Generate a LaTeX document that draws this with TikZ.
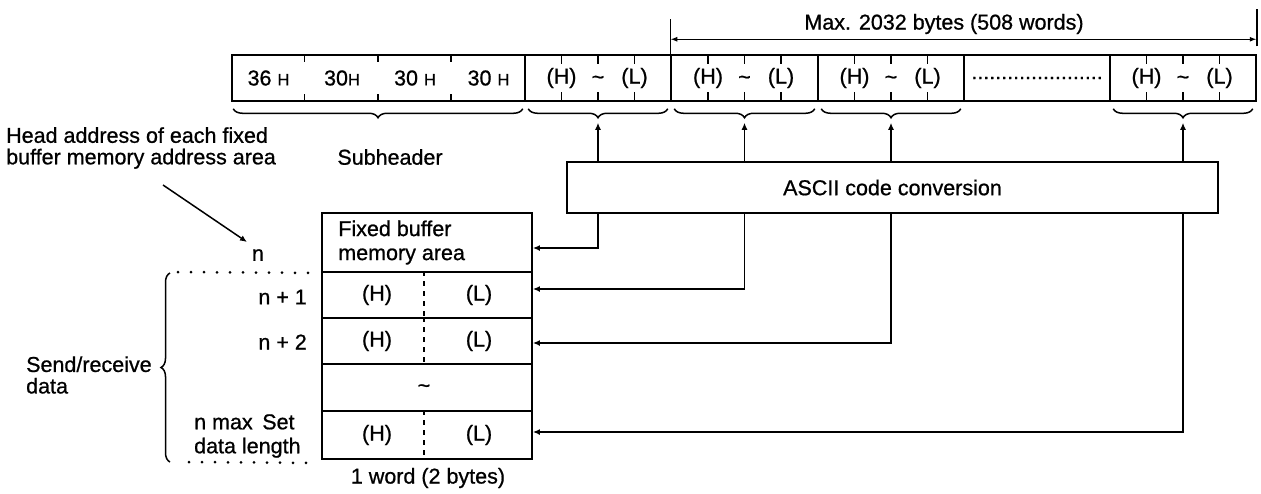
\documentclass[tikz,border=0pt]{standalone}
\usepackage{fontspec}
\setmainfont[FakeBold=0.8]{Liberation Sans}
\usetikzlibrary{arrows.meta,decorations.pathreplacing,calc}
\begin{document}
\begin{tikzpicture}[x=1pt,y=-1pt,
  font=\fontsize{21.5}{23}\selectfont,
  cell/.style={draw,line width=1.5pt,inner sep=0pt,minimum height=46pt},
  bufrow/.style={draw,line width=1.8pt,inner sep=0pt,minimum width=210pt},
  lbl/.style={inner sep=0pt},
  arr/.style={line width=1.5pt,-{Latex[length=7pt,width=6pt]}},
  brc/.style={line width=1.5pt,decorate,decoration={brace,mirror,amplitude=9pt}},
  lbrc/.style={line width=1.5pt,decorate,decoration={brace,amplitude=9pt}},
  tickln/.style={line width=1.5pt},
  divd/.style={line width=2pt,dash pattern=on 5pt off 5pt},
  dotline/.style={line width=3pt,line cap=round,dash pattern=on 0pt off 13pt},
  ]
\useasboundingbox (0,0) rectangle (1261,493);

% ---- top row ----
\node[cell,minimum width=293pt] (hdr) at (378.5,78) {};
\node[cell,minimum width=146pt] (d1) at (598,78) {};
\node[cell,minimum width=147pt] (d2) at (744.5,78) {};
\node[cell,minimum width=146pt] (d3) at (891,78) {};
\node[cell,minimum width=146pt] (dd) at (1037,78) {};
\node[cell,minimum width=146pt] (d5) at (1183,78) {};

\newcommand{\sH}{{\fontsize{16.5}{16}\selectfont H}}
\node[lbl] (h1) at (268.5,78) {36 \sH};
\node[lbl] (h2) at (342,78) {30\sH};
\node[lbl] (h3) at (415,78) {30 \sH};
\node[lbl] (h4) at (488.5,78) {30 \sH};
\foreach \k in {1,2,3}{
  \draw[tickln] ($(hdr.north west)+(73.25*\k,0)$) -- ++(0,8);
  \draw[tickln] ($(hdr.south west)+(73.25*\k,0)$) -- ++(0,-8);
}
\foreach \c in {d1,d2,d3,d5}{
  \node[lbl] at ($(\c)+(-36.5,0)$) {(H)};
  \node[lbl] at ($(\c)+(0,2)$) {\textasciitilde};
  \node[lbl] at ($(\c)+(36.5,0)$) {(L)};
  \foreach \o in {-36.5,0,36.5}{
    \draw[tickln] ($(\c.north)+(\o,0)$) -- ++(0,10);
    \draw[tickln] ($(\c.south)+(\o,0)$) -- ++(0,-10);
  }
}
\node[lbl] (dots) at (dd) {......................};

% braces under the top row
\draw[brc] ([xshift=2pt,yshift=-7pt]hdr.south west) -- ([xshift=-3pt,yshift=-7pt]hdr.south east);
\foreach \c in {d1,d2,d3,d5}{
  \draw[brc] ([xshift=4pt,yshift=-7pt]\c.south west) -- ([xshift=-4pt,yshift=-7pt]\c.south east);
  \coordinate (t\c) at ([yshift=-21pt]\c.south);
}

% max bracket
\node[lbl] (maxl) at (944,24) {Max. 2032 bytes (508 words)};
\coordinate (mL) at ([yshift=15pt]d2.north west);
\coordinate (mR) at ([yshift=15pt]d5.north east);
\draw[tickln] (d2.north west) -- ++(0,-35);
\draw[tickln] ([yshift=8pt]d5.north east) -- ++(0,-37);
\draw[line width=1.5pt,{Latex[length=7pt,width=5pt]}-{Latex[length=7pt,width=5pt]}] (mL) -- (mR);

% labels
\node[lbl,anchor=west,align=left,font=\fontsize{21.5}{21.5}\selectfont] (head) at (6,148)
  {Head address of each fixed\\buffer memory address area};
\node[lbl] (sub) at (390,157) {Subheader};

% ASCII box
\node[draw,line width=1.5pt,minimum width=651pt,minimum height=51pt,inner sep=0pt] (ascii) at (892.5,187.5) {ASCII code conversion};
\foreach \c in {d1,d2,d3,d5}{
  \draw[arr] (ascii.north -| \c) -- (t\c);
}

% buffer memory
\node[bufrow,minimum height=59pt] (r0) at (427,242.5) {};
\node[bufrow,minimum height=46pt] (r1) at (427,295) {};
\node[bufrow,minimum height=46pt] (r2) at (427,341) {};
\node[bufrow,minimum height=47pt] (r3) at (427,387.5) {};
\node[bufrow,minimum height=48pt] (r4) at (427,435) {};
\node[lbl,anchor=west,align=left,font=\fontsize{21.5}{24}\selectfont] (r0t) at ([xshift=17pt]r0.west) {Fixed buffer\\memory area};
\coordinate (mid) at (424,0);
\foreach \r in {r1,r2,r4}{
  \node[lbl] at (377,0 |- \r) {(H)};
  \node[lbl] at (479,0 |- \r) {(L)};
  \draw[divd] (\r.north -| mid) -- (\r.south -| mid);
}
\node[lbl] (tl) at ($(r3 -| mid)+(0,1)$) {\textasciitilde};
\node[lbl] (wlab) at (428,478) {1 word (2 bytes)};

% left labels
\node[lbl] (nlab) at (258,255) {n};
\node[lbl,anchor=east] (n1) at (307,297) {n + 1};
\node[lbl,anchor=east] (n2) at (307,342) {n + 2};
\node[lbl,anchor=west,align=left,font=\fontsize{21.5}{24}\selectfont] (nmax) at (194,436) {n max\, Set\\data length};
\draw[dotline] (178,272) -- ([xshift=-9pt]r0.south west);
\draw[dotline] (189,462) -- ([xshift=-12pt,yshift=-3pt]r4.south west);
\draw[lbrc] (170,462) -- (170,273);
\node[lbl,anchor=west,align=left,font=\fontsize{21.5}{21.5}\selectfont] (srd) at (26,375) {Send/receive\\data};

% head address arrow
\coordinate (ha) at (163,185);
\coordinate (hb) at (247,242);
\draw[arr] (ha) -- (hb);

% connectors to buffer rows
\coordinate (e0) at ([yshift=-5.5pt]r0.east);
\coordinate (e1) at ([yshift=6pt]r1.east);
\coordinate (e2) at ([yshift=-2pt]r2.east);
\coordinate (e4) at ([yshift=3pt]r4.east);
\draw[arr] (ascii.south -| d1) |- (e0);
\draw[arr] (ascii.south -| d2) |- (e1);
\draw[arr] (ascii.south -| d3) |- (e2);
\draw[arr] (ascii.south -| d5) |- (e4);
\end{tikzpicture}
\end{document}
